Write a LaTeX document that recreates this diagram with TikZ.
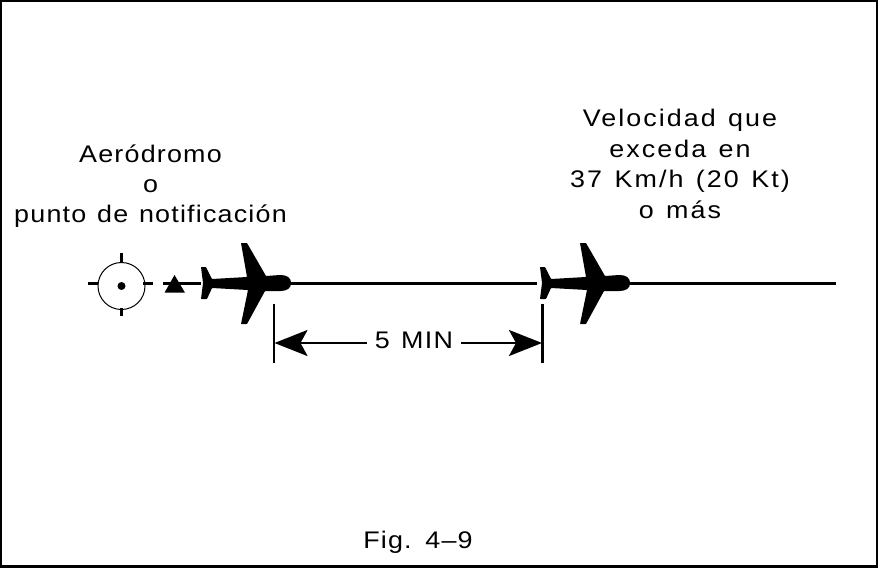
\documentclass[tikz,border=0pt]{standalone}
\usepackage{fontspec}
\setmainfont{Liberation Sans}
\newfontfamily\fa[LetterSpace=5,FakeStretch=1.12,WordSpace=1.25]{Liberation Sans}
\newfontfamily\fb[LetterSpace=8.6,FakeStretch=1.12,WordSpace=1.3]{Liberation Sans}
\newfontfamily\fc[LetterSpace=5.5,FakeStretch=1.12,WordSpace=1.3]{Liberation Sans}
\usetikzlibrary{arrows.meta}
\tikzset{
  x=1pt,y=-1pt,
  lbl/.style={align=center,inner sep=0pt,text=black},
  thickln/.style={line width=2.8pt,black},
  dimln/.style={line width=2.5pt,black},
  dimarrow/.style={line width=2.5pt,black,-{Stealth[length=33pt,width=26pt,inset=7pt]}},
  plane/.pic={
    \fill[black,rounded corners=0.6pt] (0,-16) -- (5,-16) -- (11,-4) -- (46,-6) -- (40,-40) -- (46,-40) -- (65,-7)
      -- (79,-8) .. controls (86,-8) and (90,-5) .. (90,0) .. controls (90,5) and (86,8) .. (79,8)
      -- (64,8) -- (46,41) -- (40,41) -- (47,7) -- (11,5) -- (6,16) -- (0,16) -- (2,0) -- cycle;
  }
}
\begin{document}
\begin{tikzpicture}
\useasboundingbox (0,0) rectangle (878,568);
\draw[line width=2.4pt] (1,1) rectangle (877,566.5);
% aerodrome symbol
\coordinate (c) at (121.5,286);
\draw[line width=1pt] (c) circle (23.5);
\fill (c) circle (4);
\coordinate (lA) at (88,283.5); \coordinate (lB) at (98,283.5);
\coordinate (rA) at (143,283.5); \coordinate (rB) at (153,283.5);
\coordinate (tA) at (121.5,253); \coordinate (tB) at (121.5,262);
\coordinate (bA) at (121.5,308); \coordinate (bB) at (121.5,316);
\draw[dimln] (lA)--(lB) (rA)--(rB) (tA)--(tB) (bA)--(bB);
% track
\coordinate (t0) at (163,283.5); \coordinate (t1) at (201,283.5);
\coordinate (t2) at (285,283.5); \coordinate (t3) at (537,283.5);
\coordinate (t4) at (625,283.5); \coordinate (t5) at (836,283.5);
\draw[thickln] (t0)--(t1) (t2)--(t3) (t4)--(t5);
\fill (174.5,275) -- (185,292.7) -- (164.5,292.7) -- cycle;
\pic at (201,283) {plane};
\pic at (540,283) {plane};
% dimension
\coordinate (d1a) at (274,304); \coordinate (d1b) at (274,363);
\coordinate (d2a) at (542.5,304); \coordinate (d2b) at (542.5,363);
\draw[dimln] (d1a)--(d1b) (d2a)--(d2b);
\node[lbl,font=\fontsize{24}{30}\fc] (min) at (414,340) {5 MIN};
\coordinate (al) at (274.5,343); \coordinate (ar) at (542,343);
\draw[dimarrow] (367,343) -- (al);
\draw[dimarrow] (461,343) -- (ar);
% labels
\node[lbl,font=\fontsize{24}{30}\fa] (aero) at (150.5,186) {Aeródromo\\o\\punto de notificación};
\node[lbl,font=\fontsize{24}{30.7}\fb] (vel) at (680,164) {Velocidad que\\exceda en\\37 Km/h (20 Kt)\\o más};
\node[lbl,font=\fontsize{24}{30}\fa] (fig) at (418,542) {Fig. 4–9};
\end{tikzpicture}
\end{document}
